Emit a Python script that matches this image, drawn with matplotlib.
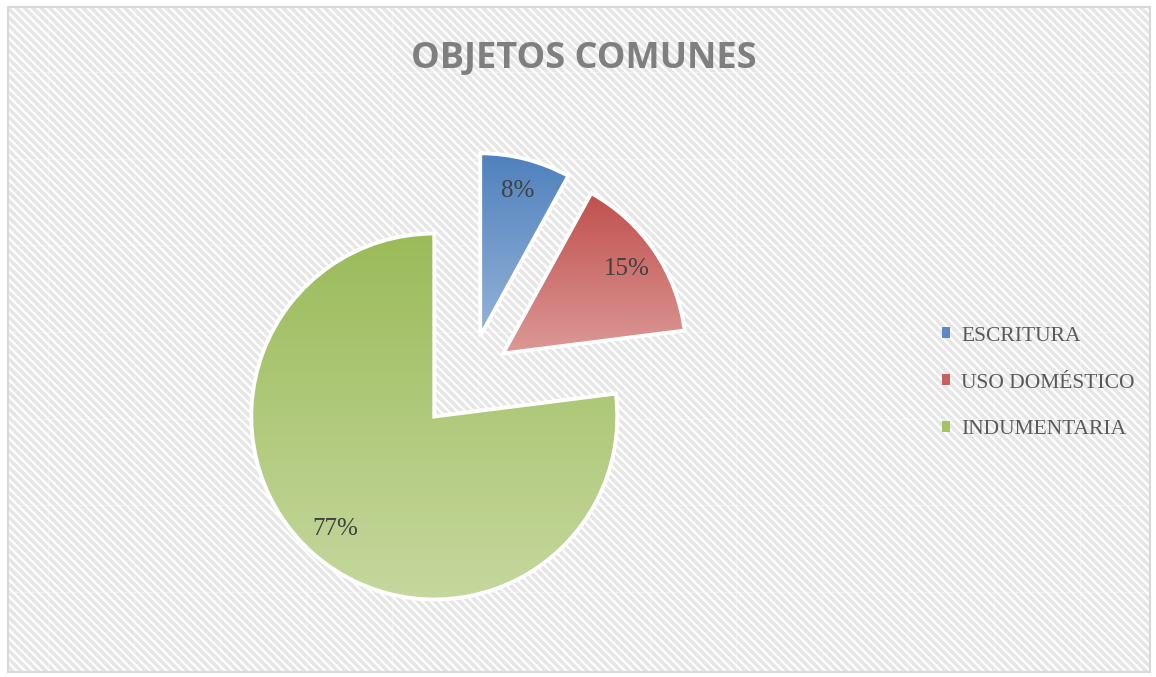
import numpy as np
import matplotlib
matplotlib.use("Agg")
import matplotlib.pyplot as plt
from matplotlib.patches import Rectangle, Patch
from matplotlib.colors import LinearSegmentedColormap

# ---- data ----
categories = ["ESCRITURA", "USO DOMÉSTICO", "INDUMENTARIA"]
values = [8, 15, 77]
title = "OBJETOS COMUNES"

# ---- styles ----
top_colors = ["#4F81BD", "#C0504D", "#9BBB59"]
bottom_colors = ["#95B3D7", "#DC9997", "#C5D89E"]
legend_colors = ["#5B8AC4", "#C9605D", "#A5C266"]
explode_px = [41, 40, 54]

W, H = 1156, 677
plt.rcParams["hatch.color"] = "#E6E6E6"
plt.rcParams["hatch.linewidth"] = 2.6

fig = plt.figure(figsize=(W / 100, H / 100), dpi=100)
ax = fig.add_axes([0, 0, 1, 1])
ax.set_xlim(0, W)
ax.set_ylim(0, H)
ax.set_aspect("equal")
ax.axis("off")

# background with diagonal stripes and border
bg = Rectangle((8, 5), 1142, 665, facecolor="white", edgecolor="#E6E6E6",
               hatch="\\\\\\\\", linewidth=0, zorder=0)
ax.add_patch(bg)
for xs in np.arange(48, 1150, 86):
    ax.plot([xs, xs], [5, 670], color="white", lw=0.7, alpha=0.35, zorder=0.5)
for ys in np.arange(72, 672, 86.7):
    ax.plot([8, 1150], [H - ys, H - ys], color="white", lw=0.7, alpha=0.35, zorder=0.5)
ax.add_patch(Rectangle((8, 5), 1142, 665, facecolor="none",
                       edgecolor="#D9D9D9", linewidth=1.5, zorder=0.6))

center = (470, H - 376)
radius = 183
wedges, texts, autotexts = ax.pie(
    values, explode=explode_px, center=center, radius=radius,
    startangle=90, counterclock=False, autopct="%1.0f%%", pctdistance=0.82,
    wedgeprops=dict(edgecolor="white", linewidth=2.8, facecolor="none"),
    textprops=dict(family="Liberation Serif", fontsize=18, color="#404040"),
    frame=True)
ax.set_xlim(0, W)
ax.set_ylim(0, H)
ax.axis("off")

for w, c1, c2 in zip(wedges, top_colors, bottom_colors):
    ext = w.get_path().get_extents()
    cmap = LinearSegmentedColormap.from_list("g", [c1, c2])
    grad = np.linspace(0, 1, 256).reshape(-1, 1)
    im = ax.imshow(grad, cmap=cmap, aspect="auto", origin="upper",
                   extent=[ext.x0, ext.x1, ext.y0, ext.y1], zorder=1.5)
    im.set_clip_path(w)
    w.set_zorder(2)
for t in autotexts:
    t.set_zorder(3)

ax.set_xlim(0, W)
ax.set_ylim(0, H)

ax.text(584, H - 68, title, ha="center", va="baseline", fontsize=26,
        fontweight="bold", family="Open Sans", color="#7F7F7F")

handles = [Patch(facecolor=c, edgecolor="none") for c in legend_colors]
leg = ax.legend(handles, categories, loc="center left",
                bbox_to_anchor=(931 / W, 1 - 383 / H), frameon=False,
                prop=dict(family="Liberation Serif", size=15.5),
                handlelength=0.4, handleheight=0.4, handletextpad=0.5,
                labelspacing=1.3, borderpad=0.0)
for t in leg.get_texts():
    t.set_color("#595959")

fig.savefig("out.png", dpi=100)
